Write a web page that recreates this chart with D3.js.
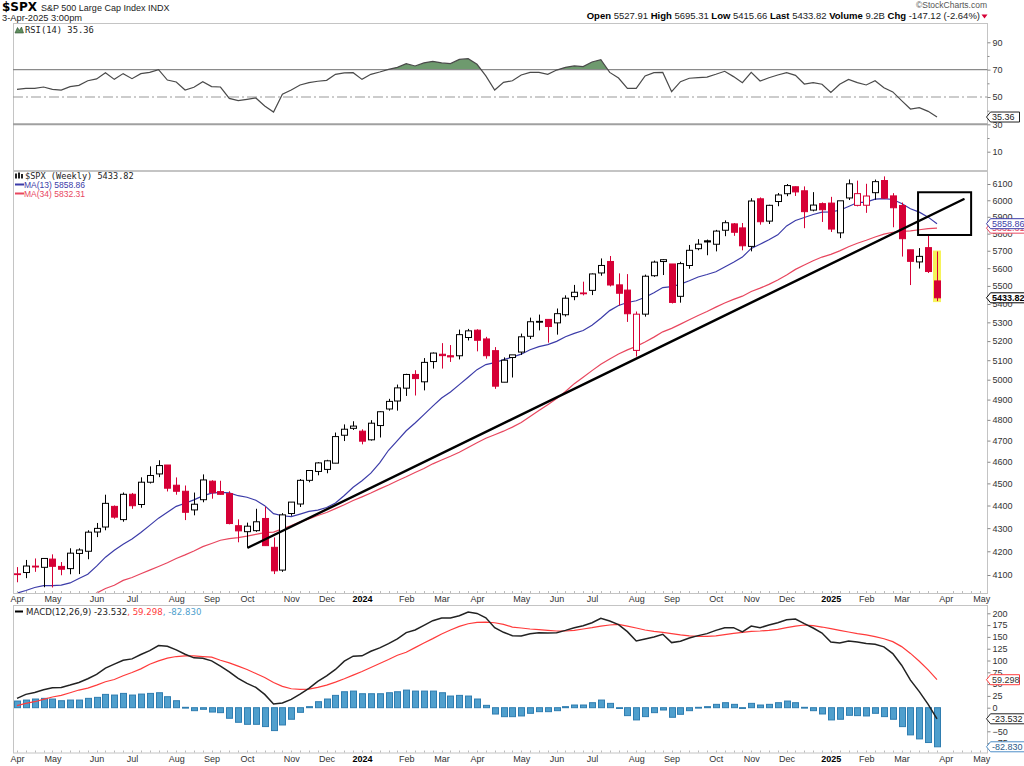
<!DOCTYPE html>
<html><head><meta charset="utf-8">
<script src="https://cdn.jsdelivr.net/npm/d3@7"></script>
<style>
body{margin:0;background:#fff}
svg{display:block}
text{font-family:"Liberation Sans",Arial,sans-serif}
</style>
</head><body>
<svg id="c" width="1024" height="766"></svg>
<script>
// ---------------- DATA ----------------
const weeks = [
"2023-04-03","2023-04-10","2023-04-17","2023-04-24","2023-05-01","2023-05-08","2023-05-15","2023-05-22","2023-05-29","2023-06-05",
"2023-06-12","2023-06-19","2023-06-26","2023-07-03","2023-07-10","2023-07-17","2023-07-24","2023-07-31","2023-08-07","2023-08-14",
"2023-08-21","2023-08-28","2023-09-04","2023-09-11","2023-09-18","2023-09-25","2023-10-02","2023-10-09","2023-10-16","2023-10-23",
"2023-10-30","2023-11-06","2023-11-13","2023-11-20","2023-11-27","2023-12-04","2023-12-11","2023-12-18","2023-12-25",
"2024-01-01","2024-01-08","2024-01-15","2024-01-22","2024-01-29","2024-02-05","2024-02-12","2024-02-19","2024-02-26","2024-03-04",
"2024-03-11","2024-03-18","2024-03-25","2024-04-01","2024-04-08","2024-04-15","2024-04-22","2024-04-29","2024-05-06","2024-05-13",
"2024-05-20","2024-05-27","2024-06-03","2024-06-10","2024-06-17","2024-06-24","2024-07-01","2024-07-08","2024-07-15","2024-07-22",
"2024-07-29","2024-08-05","2024-08-12","2024-08-19","2024-08-26","2024-09-02","2024-09-09","2024-09-16","2024-09-23","2024-09-30",
"2024-10-07","2024-10-14","2024-10-21","2024-10-28","2024-11-04","2024-11-11","2024-11-18","2024-11-25","2024-12-02","2024-12-09",
"2024-12-16","2024-12-23","2024-12-30",
"2025-01-06","2025-01-13","2025-01-20","2025-01-27","2025-02-03","2025-02-10","2025-02-17","2025-02-24","2025-03-03","2025-03-10",
"2025-03-17","2025-03-24","2025-03-31"];

const open = [4102.2,4110.3,4137.2,4132.1,4166.8,4136.0,4126.7,4190.8,4200.1,4283.0,
4304.9,4396.1,4337.4,4450.5,4404.5,4505.3,4543.4,4584.8,4491.6,4464.1,
4380.3,4426.0,4510.1,4462.6,4453.5,4310.6,4284.5,4289.0,4342.4,4217.0,
4120.5,4364.3,4406.7,4514.0,4554.9,4564.4,4593.4,4725.6,4758.9,
4745.2,4703.7,4772.4,4853.4,4892.9,4957.2,5026.8,4989.3,5093.0,5131.0,
5123.3,5123.1,5219.0,5258.0,5211.4,5149.7,4987.3,5114.1,5142.4,5225.5,
5305.3,5315.9,5297.2,5341.2,5440.5,5460.7,5475.1,5572.8,5638.2,5505.8,
5476.6,5151.1,5344.4,5557.2,5637.8,5623.9,5442.0,5615.2,5711.9,5757.7,
5737.8,5820.0,5857.8,5833.9,5725.2,6008.9,5874.2,5992.3,6040.1,6083.0,
6058.1,5940.3,5979.5,
5982.8,5804.6,6014.1,5969.0,5969.7,6046.4,6121.6,6026.7,5968.3,5705.4,
5635.6,5718.1,5527.91];
const high = [4133.1,4163.2,4169.5,4170.1,4186.9,4154.3,4212.9,4212.6,4290.7,4322.6,
4448.5,4400.2,4458.5,4456.5,4527.8,4578.4,4607.1,4584.8,4527.4,4490.3,
4458.3,4541.3,4514.3,4512.0,4464.1,4338.5,4324.1,4385.5,4393.6,4259.4,
4366.0,4415.3,4520.1,4560.0,4598.5,4609.2,4738.6,4778.0,4793.3,
4754.3,4798.5,4842.1,4903.7,4975.3,5030.1,5048.4,5111.1,5140.3,5189.3,
5179.1,5261.1,5264.9,5263.0,5222.6,5168.4,5114.6,5123.5,5239.7,5325.5,
5341.9,5315.9,5375.1,5447.3,5505.5,5523.6,5570.3,5655.6,5669.7,5570.4,
5566.2,5358.6,5563.4,5643.2,5651.6,5623.9,5636.3,5733.6,5767.4,5765.1,
5822.1,5878.5,5862.8,5863.0,6012.5,6017.3,5972.9,6044.2,6100.0,6085.2,
6085.2,6049.8,5986.9,
6021.0,5977.0,6128.2,6120.9,6101.3,6127.5,6147.4,6043.6,5986.1,5705.4,
5715.3,5787.0,5695.31];
const low = [4069.8,4086.9,4113.2,4049.4,4048.3,4098.9,4103.0,4103.9,4166.2,4261.0,
4290.6,4341.3,4328.1,4385.1,4389.9,4499.6,4528.6,4463.2,4448.5,4335.3,
4356.3,4414.5,4430.5,4448.4,4316.5,4238.6,4216.5,4283.8,4223.0,4103.8,
4113.2,4354.4,4393.2,4505.0,4537.2,4546.5,4593.4,4697.8,4751.0,
4682.1,4699.8,4714.8,4845.2,4845.2,4918.1,4920.3,4946.0,5056.8,5056.8,
5091.1,5104.0,5203.4,5146.1,5107.9,4953.6,4987.3,5011.1,5127.4,5211.2,
5256.9,5191.7,5234.3,5331.4,5420.5,5447.3,5448.9,5557.1,5497.0,5391.0,
5302.4,5119.3,5330.8,5550.7,5561.0,5402.6,5407.0,5596.6,5702.8,5674.0,
5696.3,5784.9,5786.9,5702.6,5696.5,5853.0,5857.0,5963.9,6025.0,6026.2,
5832.3,5933.0,5869.2,
5809.7,5773.3,6001.4,5962.9,5923.9,6003.0,6008.6,5837.7,5666.3,5504.7,
5597.8,5572.4,5415.66];
const close = [4105.0,4137.6,4133.5,4169.5,4136.3,4124.1,4192.0,4205.5,4282.4,4298.9,
4409.6,4348.3,4450.4,4399.0,4505.4,4536.3,4582.2,4478.0,4464.1,4369.7,
4405.7,4515.8,4457.5,4450.3,4320.1,4288.1,4308.5,4327.8,4224.2,4117.4,
4358.3,4415.2,4514.0,4559.3,4594.6,4604.4,4719.2,4754.6,4769.8,
4697.2,4783.8,4839.8,4891.0,4958.6,5026.6,5005.6,5088.8,5137.1,5123.7,
5117.1,5234.2,5254.4,5204.3,5123.4,4967.2,5100.0,5127.8,5222.7,5303.3,
5304.7,5277.5,5347.0,5431.6,5464.6,5460.5,5567.2,5615.4,5505.0,5459.1,
5346.6,5344.2,5554.3,5634.6,5648.4,5408.4,5626.0,5702.6,5738.2,5751.1,
5815.0,5864.7,5808.1,5728.8,5995.5,5870.6,5969.3,6032.4,6090.3,6051.1,
5930.9,5970.8,5942.5,
5827.0,5996.7,6101.2,6040.5,6026.0,6114.6,6013.1,5954.5,5770.2,5638.9,
5667.6,5580.9,5433.82];
const prevClose = 4109.31;   // close of the week before the first bar

const ma13 = [4025.2,4035.8,4048.2,4055.8,4055.8,4058.4,4067.1,4085.2,4103.4,4137.1,
4175.0,4204.0,4230.2,4252.9,4281.1,4312.1,4343.9,4370.2,4396.3,4410.0,
4425.4,4443.3,4455.5,4458.7,4456.5,4444.0,4437.1,4423.4,4399.4,4363.6,
4354.4,4350.7,4361.8,4373.6,4379.6,4390.9,4411.6,4445.0,4482.1,
4512.0,4547.1,4594.4,4654.0,4700.1,4747.1,4785.0,4825.7,4867.4,4907.4,
4938.0,4974.9,5012.1,5051.2,5077.3,5087.1,5103.2,5116.2,5131.3,5154.2,
5170.8,5181.6,5198.7,5222.9,5240.7,5256.5,5284.4,5322.3,5363.6,5391.3,
5408.1,5417.4,5436.7,5462.1,5490.7,5495.4,5510.3,5528.6,5550.0,5564.1,
5579.5,5607.2,5634.0,5663.4,5713.5,5737.8,5763.6,5793.1,5845.6,5878.3,
5895.8,5913.7,5928.5,
5929.4,5939.5,5962.1,5986.1,5988.4,6007.2,6010.5,6004.6,5979.9,5948.2,
5928.0,5898.0,5858.86];
const ma34 = [3936.1,3933.4,3935.6,3942.9,3944.9,3952.3,3966.9,3985.2,4004.1,4025.1,
4044.4,4057.6,4077.6,4089.5,4105.4,4120.4,4135.4,4151.4,4169.4,4184.9,
4201.5,4219.8,4233.2,4247.3,4254.6,4259.1,4265.5,4272.8,4280.3,4282.4,
4297.0,4311.7,4327.6,4340.9,4355.3,4369.0,4386.2,4403.4,4422.1,
4438.9,4456.3,4475.0,4492.9,4512.3,4530.4,4549.8,4568.6,4590.3,4608.5,
4625.5,4644.7,4667.5,4689.3,4711.5,4728.0,4745.2,4764.9,4787.6,4816.5,
4846.4,4874.9,4904.9,4940.4,4980.0,5012.5,5046.3,5078.7,5106.6,5132.0,
5153.8,5172.2,5195.7,5221.1,5249.1,5267.5,5290.6,5314.5,5337.4,5358.7,
5382.5,5405.4,5425.1,5442.9,5468.7,5487.4,5508.5,5532.8,5561.3,5593.1,
5617.6,5642.4,5663.5,
5679.0,5699.3,5723.5,5743.9,5761.4,5780.5,5796.8,5808.2,5812.7,5816.7,
5822.8,5829.7,5832.31];

const rsi = [55.6,56.3,56.3,57.3,55.6,55.1,57.6,58.5,61.9,63.2,
67.8,62.9,67.1,63.4,67.1,68.0,70.0,62.4,61.0,55.1,
57.1,61.2,57.6,57.3,49.0,47.3,48.3,49.3,43.4,39.0,
52.0,55.1,58.8,60.5,61.5,62.2,66.6,67.6,67.8,
62.9,66.6,68.3,70.2,71.7,74.4,72.7,74.9,76.1,74.9,
74.4,77.5,78.0,73.9,65.4,55.1,60.7,61.9,66.1,68.0,
68.0,66.6,69.7,71.7,72.7,72.2,75.6,77.3,68.0,63.9,
56.3,56.3,65.4,67.8,68.0,53.9,61.2,63.7,64.1,64.6,
66.6,68.8,64.9,60.5,68.0,61.7,64.1,66.1,67.8,65.8,
59.5,60.5,59.3,
53.4,59.3,62.9,60.5,58.8,61.9,56.8,53.7,47.3,41.2,
42.2,39.5,35.36];

const macd = [19.8,28.2,32.4,38.0,42.3,43.0,47.9,53.5,61.3,70.4,
83.8,92.2,100.6,103.4,112.6,121.0,131.6,130.2,122.4,113.3,
105.6,104.9,99.2,88.0,76.0,62.0,51.4,43.0,28.2,7.8,
9.9,17.7,28.9,40.9,55.6,67.6,81.0,98.5,109.1,
109.8,119.6,126.7,135.8,145.6,159.0,164.6,174.5,184.3,189.9,
189.9,194.9,202.6,199.8,190.6,169.5,159.7,152.5,151.9,156.8,
158.9,158.2,158.9,163.8,169.5,173.7,180.1,189.2,183.6,175.9,
161.1,141.4,145.6,149.9,155.5,137.9,140.8,147.8,152.7,156.9,
163.9,169.5,169.5,160.4,173.0,169.5,175.2,180.1,186.4,187.8,
178.0,168.8,158.3,
139.3,137.2,141.4,139.3,135.8,134.4,128.8,114.7,90.1,58.5,
34.0,7.0,-23.532];
const signal = [4.3,9.2,12.7,17.7,22.6,26.1,31.7,37.4,41.6,47.9,
54.9,59.8,67.6,74.6,82.3,92.2,99.2,104.9,108.4,109.8,
109.8,108.4,107.0,100.6,95.0,88.0,81.0,72.5,64.1,53.5,
45.1,40.1,38.7,39.4,43.0,47.9,54.2,61.3,69.0,
76.6,85.2,93.5,102.0,111.2,117.5,127.3,137.2,146.3,156.2,
164.6,172.3,177.9,180.7,181.4,180.0,176.5,170.9,168.8,166.7,
165.3,163.9,162.5,162.5,163.9,166.7,169.5,173.0,175.2,176.6,
173.0,168.8,164.6,161.8,159.6,156.9,154.1,152.0,151.3,151.3,
152.0,154.8,157.6,159.6,161.8,162.5,163.9,166.0,169.5,173.0,
175.2,173.7,170.9,
167.4,163.9,160.4,156.9,154.1,150.6,146.0,140.0,129.4,115.0,
98.5,80.0,59.298];
const hist = [14.1,16.2,18.4,19.8,18.4,14.8,16.2,16.2,19.8,21.9,
28.2,26.8,30.3,26.8,28.9,30.3,31.7,23.3,14.8,0.8,
-6.3,-3.4,-9.2,-10.5,-22.4,-30.9,-35.2,-35.2,-40.0,-48.5,
-36.6,-24.5,-9.8,2.2,12.7,18.4,26.1,33.8,35.2,
29.6,29.6,29.6,31.7,33.8,37.3,35.2,35.2,35.2,31.7,
24.7,26.1,24.7,18.4,5.0,-13.4,-19.0,-19.0,-17.5,-11.9,
-8.4,-8.4,-6.3,2.2,5.7,5.7,10.6,16.2,9.2,-1.3,
-16.8,-25.9,-18.9,-10.5,-4.9,-20.3,-14.0,-6.3,0.8,2.2,
7.1,10.6,7.1,0.1,9.2,5.7,7.1,10.6,14.1,10.6,
0.8,-6.3,-13.3,
-25.9,-24.5,-16.1,-16.8,-17.5,-11.9,-18.9,-24.5,-40.1,-57.6,
-66.1,-73.8,-82.830];

const tickDates = ["2023-04-03","2023-05-01","2023-06-05","2023-07-03","2023-08-07","2023-09-04","2023-10-02","2023-11-06","2023-12-04",
"2024-01-01","2024-02-05","2024-03-04","2024-04-01","2024-05-06","2024-06-03","2024-07-01","2024-08-05","2024-09-02","2024-10-07",
"2024-11-04","2024-12-02","2025-01-06","2025-02-03","2025-03-03","2025-04-07","2025-05-05"];
const tickLabels = ["Apr","May","Jun","Jul","Aug","Sep","Oct","Nov","Dec","2024","Feb","Mar","Apr","May","Jun","Jul","Aug","Sep","Oct",
"Nov","Dec","2025","Feb","Mar","Apr","May"];
const priceTicks = [4100,4200,4300,4400,4500,4600,4700,4800,4900,5000,5100,5200,5300,5400,5500,5600,5700,5800,5900,6000,6100];
const rsiTicks = [10,30,50,70,90];
const rsiMinor = [20,40,60,80];
const macdTicks = [-75,-50,-25,0,25,50,75,100,125,150,175,200];

const trendLine = [["2023-10-03",4216],["2025-04-21",6006]];
const boxAnno = [["2025-03-16",6049],["2025-04-27",5792]];

const quote = [["Open","5527.91"],["High","5695.31"],["Low","5415.66"],["Last","5433.82"],["Volume","9.2B"],["Chg","-147.12 (-2.64%)"]];

// ---------------- LAYOUT / SCALES ----------------
const svg = d3.select("#c");
const L = 13, R = 987.5;
const PR = [23, 170], PP = [171, 593], PM = [605, 752.5];
const RED = "#d60036", BLUE_MA = "#3b3ba8", RED_MA = "#e8465e";
const parse = d3.utcParse("%Y-%m-%d");
const dates = weeks.map(parse);
const x = d3.scaleUtc().domain([dates[0], dates[dates.length-1]]).range([17, 937]);
const yP = d3.scaleLog().domain([4100, 6100]).range([575, 184]);
const yR = d3.scaleLinear().domain([10, 90]).range([151.7, 42.3]);
const yM = d3.scaleLinear().domain([0, 200]).range([707.7, 613.3]);
const X = i => x(dates[i]);

const defs = svg.append("defs");
function clip(id, y0, y1){ defs.append("clipPath").attr("id", id).append("rect").attr("x", L).attr("y", y0).attr("width", R - L).attr("height", y1 - y0); }
clip("cR", PR[0], PR[1]); clip("cP", PP[0], PP[1]); clip("cM", PM[0], PM[1]);
defs.append("clipPath").attr("id","c70").append("rect").attr("x",L).attr("y",PR[0]).attr("width",R-L).attr("height",yR(70)-PR[0]);

// ---------------- HEADER ----------------
const hdr = svg.append("g");
hdr.append("text").attr("x",2).attr("y",11).style("font-family","'DejaVu Sans',sans-serif").style("font-weight","bold").style("font-size","12px").attr("fill","#000").text("$SPX");
hdr.append("text").attr("x",41).attr("y",11).style("font-size","9px").attr("fill","#222").text("S&P 500 Large Cap Index INDX");
hdr.append("text").attr("x",2).attr("y",21).style("font-size","9.3px").attr("fill","#222").text("3-Apr-2025 3:00pm");
hdr.append("text").attr("x",987).attr("y",8).attr("text-anchor","end").style("font-size","8.5px").attr("fill","#555").text("\u00A9StockCharts.com");
const qt = hdr.append("text").attr("x",980).attr("y",19).attr("text-anchor","end").style("font-size","9.5px").attr("fill","#222");
quote.forEach((q,k)=>{
  qt.append("tspan").style("font-weight","bold").attr("fill","#000").text((k?"  ":"")+q[0]+" ");
  qt.append("tspan").text(q[1]);
});
hdr.append("path").attr("d","M981.5,14.5 L987.5,14.5 L984.5,18.5 Z").attr("fill",RED);

// ---------------- PANEL FRAMES ----------------
[PR,PP,PM].forEach(p=>{
  svg.append("rect").attr("x",L+0.5).attr("y",p[0]+0.5).attr("width",R-L-0.5).attr("height",p[1]-p[0]).attr("fill","#fff").attr("stroke","#c4c4c4");
});

// ---------------- RSI PANEL ----------------
const gR = svg.append("g");
gR.append("path").datum(rsi).attr("clip-path","url(#c70)")
  .attr("d", d3.area().x((d,i)=>X(i)).y0(yR(70)).y1(d=>yR(d)))
  .attr("fill","#6e9a6e");
gR.append("line").attr("x1",L).attr("x2",R).attr("y1",yR(70)).attr("y2",yR(70)).attr("stroke","#8a8a8a").attr("stroke-width",1.2);
gR.append("line").attr("x1",L).attr("x2",R).attr("y1",yR(30)).attr("y2",yR(30)).attr("stroke","#a0a0a0").attr("stroke-width",2);
gR.append("line").attr("x1",L).attr("x2",R).attr("y1",yR(50)).attr("y2",yR(50)).attr("stroke","#999").attr("stroke-width",1).attr("stroke-dasharray","10,3,2,3");
gR.append("path").datum(rsi).attr("clip-path","url(#cR)")
  .attr("d", d3.line().x((d,i)=>X(i)).y(d=>yR(d)))
  .attr("fill","none").attr("stroke","#4a4a4a").attr("stroke-width",1.2);
// label
gR.append("path").attr("d","M15,33 L17.5,27.5 L19.5,30.5 L21.5,27 L23.5,33 Z").attr("fill","#5f8f5f").attr("stroke","#2f4f2f").attr("stroke-width",0.6);
gR.append("text").attr("x",25).attr("y",33).style("font-family","'DejaVu Sans Mono',monospace").style("font-size","8.8px").attr("fill","#222").text("RSI(14) 35.36");

// ---------------- PRICE PANEL ----------------
const gP = svg.append("g").attr("clip-path","url(#cP)");
const last = close.length - 1;
gP.append("rect").attr("x",X(last)-4).attr("width",8).attr("y",yP(high[last])-1).attr("height",yP(low[last])-yP(high[last])+2).attr("fill","#f6f35a");
gP.append("path").datum(ma34).attr("d", d3.line().x((d,i)=>X(i)).y(d=>yP(d))).attr("fill","none").attr("stroke",RED_MA).attr("stroke-width",1.2);
gP.append("path").datum(ma13).attr("d", d3.line().x((d,i)=>X(i)).y(d=>yP(d))).attr("fill","none").attr("stroke",BLUE_MA).attr("stroke-width",1.2);
const candles = close.map((c,i)=>({i, o:open[i], h:high[i], l:low[i], c, pc: i? close[i-1] : prevClose}));
const cg = gP.append("g").selectAll("g").data(candles).join("g");
cg.each(function(d){
  const g = d3.select(this);
  const col = d.c >= d.pc ? "#000" : RED;
  const filled = d.c < d.o;
  const cx = Math.round(X(d.i)) + 0.5;
  g.append("line").attr("x1",cx).attr("x2",cx).attr("y1",yP(d.h)).attr("y2",yP(d.l)).attr("stroke",col).attr("stroke-width",1);
  const yt = yP(Math.max(d.o,d.c)), yb = yP(Math.min(d.o,d.c));
  g.append("rect").attr("x",cx-3).attr("width",6).attr("y",yt).attr("height",Math.max(0.8,yb-yt))
    .attr("fill", filled ? col : "#fff").attr("stroke",col).attr("stroke-width",1);
});
gP.append("line").attr("x1",x(parse(trendLine[0][0]))).attr("y1",yP(trendLine[0][1]))
  .attr("x2",x(parse(trendLine[1][0]))).attr("y2",yP(trendLine[1][1])).attr("stroke","#000").attr("stroke-width",2.4).attr("stroke-linecap","round");
gP.append("rect").attr("x",x(parse(boxAnno[0][0]))).attr("y",yP(boxAnno[0][1]))
  .attr("width",x(parse(boxAnno[1][0]))-x(parse(boxAnno[0][0]))).attr("height",yP(boxAnno[1][1])-yP(boxAnno[0][1]))
  .attr("fill","none").attr("stroke","#000").attr("stroke-width",2);
const lg = svg.append("g");
lg.append("rect").attr("x",15).attr("y",173.5).attr("width",2).attr("height",5).attr("fill","#222");
lg.append("rect").attr("x",18).attr("y",172.5).attr("width",2).attr("height",6).attr("fill","#222");
lg.append("rect").attr("x",21).attr("y",174).attr("width",2).attr("height",4.5).attr("fill","#222");
lg.append("text").attr("x",25).attr("y",179).style("font-family","'DejaVu Sans Mono',monospace").style("font-size","8.6px").attr("fill","#222").text("$SPX (Weekly) 5433.82");
lg.append("line").attr("x1",15).attr("x2",24).attr("y1",184.5).attr("y2",184.5).attr("stroke",BLUE_MA).attr("stroke-width",2);
lg.append("text").attr("x",24).attr("y",188).style("font-size","8.5px").attr("fill",BLUE_MA).text("MA(13) 5858.86");
lg.append("line").attr("x1",15).attr("x2",24).attr("y1",193.5).attr("y2",193.5).attr("stroke",RED_MA).attr("stroke-width",2);
lg.append("text").attr("x",24).attr("y",197).style("font-size","8.5px").attr("fill",RED_MA).text("MA(34) 5832.31");

// ---------------- MACD PANEL ----------------
const gM = svg.append("g").attr("clip-path","url(#cM)");
gM.selectAll("rect.h").data(hist).join("rect").attr("class","h")
  .attr("x",(d,i)=>Math.round(X(i))-2.5).attr("width",6)
  .attr("y",d=>Math.min(yM(d),yM(0))).attr("height",d=>Math.max(0.8,Math.abs(yM(d)-yM(0))))
  .attr("fill","#4f9fcd").attr("stroke","#2f7db0").attr("stroke-width",1);
gM.append("path").datum(signal).attr("d", d3.line().x((d,i)=>X(i)).y(d=>yM(d))).attr("fill","none").attr("stroke","#ff3b3b").attr("stroke-width",1.2);
gM.append("path").datum(macd).attr("d", d3.line().x((d,i)=>X(i)).y(d=>yM(d))).attr("fill","none").attr("stroke","#222").attr("stroke-width",1.5);
const ml = svg.append("g");
ml.append("line").attr("x1",15).attr("x2",23).attr("y1",611.5).attr("y2",611.5).attr("stroke","#000").attr("stroke-width",2);
const mt = ml.append("text").attr("x",26).attr("y",615).style("font-family","'DejaVu Sans',sans-serif").style("font-size","8.6px");
mt.append("tspan").attr("fill","#222").text("MACD(12,26,9) -23.532");
mt.append("tspan").attr("fill","#ff3b3b").text(", 59.298");
mt.append("tspan").attr("fill","#4f9fcd").text(", -82.830");

// ---------------- AXES ----------------
function styleAxis(g){
  g.select(".domain").remove();
  g.selectAll("text").style("font-family","'Liberation Sans',Arial,sans-serif").style("font-size","9px").attr("fill","#333");
  g.selectAll("line").attr("stroke","#888");
}
const tDates = tickDates.map(parse);
const xAxis = d3.axisBottom(x).tickValues(tDates).tickFormat((d,i)=>tickLabels[i]).tickSize(0).tickPadding(3);
[PP[1], PM[1]].forEach(yy=>{
  const g = svg.append("g").attr("transform",`translate(0,${yy})`).call(xAxis);
  styleAxis(g);
  g.selectAll("text").style("font-weight",(d,i)=>/^\d{4}$/.test(tickLabels[i])?"bold":"normal").attr("fill",(d,i)=>/^\d{4}$/.test(tickLabels[i])?"#000":"#333");
  svg.append("g").selectAll("line").data(dates.concat(d3.utcWeek.range(d3.utcDay.offset(dates[dates.length-1],7), x.invert(R)))).join("line")
    .attr("x1",d=>Math.round(x(d))+0.5).attr("x2",d=>Math.round(x(d))+0.5).attr("y1",yy-2).attr("y2",yy).attr("stroke","#bbb");
});
const aP = svg.append("g").attr("transform",`translate(${R},0)`).call(d3.axisRight(yP).tickValues(priceTicks).tickFormat(d3.format("d")).tickSize(3).tickPadding(2));
styleAxis(aP);
const aR = svg.append("g").attr("transform",`translate(${R},0)`).call(d3.axisRight(yR).tickValues(rsiTicks).tickSize(3).tickPadding(2));
styleAxis(aR);
const aR2 = svg.append("g").attr("transform",`translate(${R},0)`).call(d3.axisRight(yR).tickValues(rsiMinor).tickFormat("").tickSize(2));
styleAxis(aR2);
const aM = svg.append("g").attr("transform",`translate(${R},0)`).call(d3.axisRight(yM).tickValues(macdTicks).tickSize(3).tickPadding(2));
styleAxis(aM);

// ---------------- VALUE TAGS ----------------
function tag(yc, label, stroke, color, bold){
  const g = svg.append("g");
  const w = label.length > 6 ? 34 : 29;
  g.append("path").attr("d",`M${R-1},${yc} L${R+3},${yc-5} L${R+3+w},${yc-5} L${R+3+w},${yc+5} L${R+3},${yc+5} Z`)
    .attr("fill","#fff").attr("stroke",stroke).attr("stroke-width",1);
  g.append("text").attr("x",R+4.5).attr("y",yc+3.3).style("font-size","9px").style("font-weight",bold?"bold":"normal").attr("fill",color).text(label);
}
tag(yR(rsi[last]), "35.36", "#222", "#222", false);
tag(yP(ma34[last]), "5832.31", RED_MA, RED_MA, false);
tag(yP(ma13[last]), "5858.86", BLUE_MA, BLUE_MA, false);
tag(yP(close[last]), "5433.82", "#000", "#000", true);
tag(yM(signal[last]), "59.298", "#ff3b3b", "#333", false);
tag(yM(macd[last]), "-23.532", "#222", "#222", false);
tag(yM(hist[last]), "-82.830", "#4f8fc8", "#2a5a8a", false);
</script>
</body></html>
